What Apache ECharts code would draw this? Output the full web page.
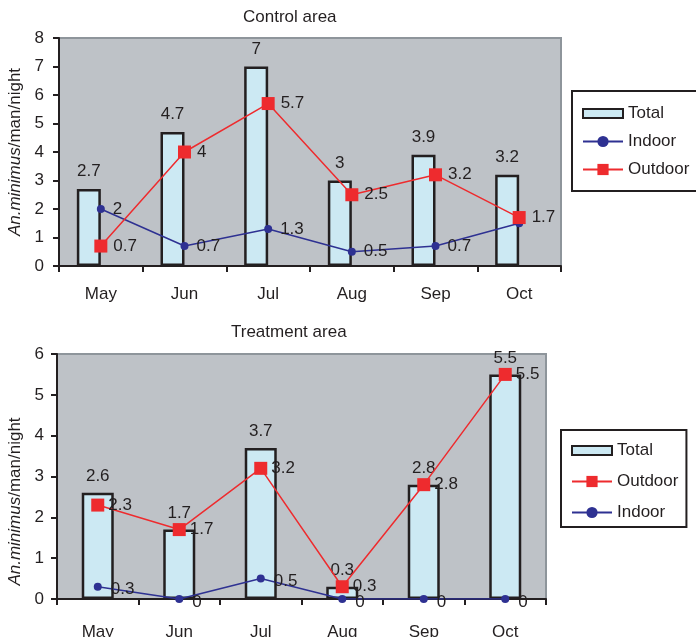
<!DOCTYPE html>
<html>
<head>
<meta charset="utf-8">
<script src="https://cdn.jsdelivr.net/npm/echarts@6/dist/echarts.min.js"></script>
<style>
html,body{margin:0;padding:0;background:#fff;}
#c{width:696px;height:637px;}
</style>
</head>
<body>
<div id="c"></div>
<script>
const months = ['May','Jun','Jul','Aug','Sep','Oct'];
const controlTotal = [2.7, 4.7, 7, 3, 3.9, 3.2];
const controlIndoor = [2, 0.7, 1.3, 0.5, 0.7, 1.5];
const controlOutdoor = [0.7, 4, 5.7, 2.5, 3.2, 1.7];
const controlIndoorHiddenLabels = [5];
const treatTotal = [2.6, 1.7, 3.7, 0.3, 2.8, 5.5];
const treatOutdoor = [2.3, 1.7, 3.2, 0.3, 2.8, 5.5];
const treatIndoor = [0.3, 0, 0.5, 0, 0, 0];

const FONT = '"Liberation Sans", Arial, sans-serif';
const TXT = '#231F20';
const RED = '#EE2B2E';
const BLUE = '#2E3192';
const BARFILL = '#CCE9F3';
const TOTAL_ICON = 'path://M0,0h40v9h-40z';

const chart = echarts.init(document.getElementById('c'), null, {renderer: 'canvas'});

function xAxis(gi, margin) {
  return {
    type: 'category', gridIndex: gi, data: months,
    axisLine: {show: true, lineStyle: {color: TXT, width: 2}},
    axisTick: {show: true, length: 6, lineStyle: {color: TXT, width: 2}},
    axisLabel: {fontSize: 17, color: TXT, fontFamily: FONT, margin: margin}
  };
}
function yAxis(gi, max, gap, margin, pad) {
  return {
    type: 'value', gridIndex: gi, min: 0, max: max, interval: 1,
    name: '{i|An.minimus}/man/night',
    nameLocation: 'middle', nameGap: gap,
    nameTextStyle: {fontSize: 17, color: TXT, fontFamily: FONT, padding: pad,
      rich: {i: {fontStyle: 'italic', fontSize: 17, color: TXT, fontFamily: FONT}}},
    axisLine: {show: true, lineStyle: {color: TXT, width: 2}},
    axisTick: {show: true, length: 6, lineStyle: {color: TXT, width: 2}},
    splitLine: {show: false},
    axisLabel: {fontSize: 17, color: TXT, fontFamily: FONT, margin: margin}
  };
}
const lbl = (pos, dist) => ({show: true, position: pos, distance: dist, fontSize: 17, color: TXT, fontFamily: FONT});

const option = {
  animation: false,
  backgroundColor: '#ffffff',
  title: [
    {text: 'Control area', left: 243, top: 9, padding: 0,
     textStyle: {fontSize: 17, fontWeight: 'normal', color: TXT, fontFamily: FONT}},
    {text: 'Treatment area', left: 231, top: 324, padding: 0,
     textStyle: {fontSize: 17, fontWeight: 'normal', color: TXT, fontFamily: FONT}}
  ],
  legend: [
    {orient: 'vertical', left: 572, top: 91, padding: [14, 14, 13, 10],
     borderColor: TXT, borderWidth: 2, itemWidth: 40, itemHeight: 14, itemGap: 11,
     textStyle: {fontSize: 17, color: TXT, fontFamily: FONT},
     data: [{name: 'Total', icon: TOTAL_ICON}, 'Indoor', 'Outdoor']},
    {orient: 'vertical', left: 561, top: 430, padding: [12, 8, 6, 10],
     borderColor: TXT, borderWidth: 2, itemWidth: 40, itemHeight: 14, itemGap: 14,
     textStyle: {fontSize: 17, color: TXT, fontFamily: FONT},
     data: [{name: 'Total', icon: TOTAL_ICON}, 'Outdoor', 'Indoor']}
  ],
  grid: [
    {left: 59, top: 38, width: 502, height: 228, show: true, outerBoundsMode: 'none',
     backgroundColor: '#BEC2C7', borderColor: '#8E959B', borderWidth: 2},
    {left: 57, top: 354, width: 489, height: 245, show: true, outerBoundsMode: 'none',
     backgroundColor: '#BEC2C7', borderColor: '#8E959B', borderWidth: 2}
  ],
  xAxis: [xAxis(0, 20), xAxis(1, 25)],
  yAxis: [yAxis(0, 8, 30, 15, 0), yAxis(1, 6, 28, 13, [0, 50, 0, 0])],
  series: [
    {name: 'Total', type: 'bar', xAxisIndex: 0, yAxisIndex: 0, data: controlTotal,
     barWidth: 24, barGap: '0%',
     itemStyle: {color: BARFILL, borderColor: TXT, borderWidth: 2.5},
     label: lbl('top', 9)},
    {name: 'spacer', type: 'bar', xAxisIndex: 0, yAxisIndex: 0,
     data: controlTotal.map(() => '-'), barWidth: 24, silent: true},
    {name: 'Indoor', type: 'line', xAxisIndex: 0, yAxisIndex: 0,
     data: controlIndoor.map((v, i) => controlIndoorHiddenLabels.includes(i) ? {value: v, label: {show: false}} : v),
     symbol: 'circle', symbolSize: 8,
     itemStyle: {color: BLUE}, lineStyle: {color: BLUE, width: 1.5},
     label: lbl('right', 8)},
    {name: 'Outdoor', type: 'line', xAxisIndex: 0, yAxisIndex: 0, data: controlOutdoor,
     symbol: 'rect', symbolSize: 13,
     itemStyle: {color: RED}, lineStyle: {color: RED, width: 1.5},
     label: lbl('right', 6)},

    {name: 'Total', type: 'bar', xAxisIndex: 1, yAxisIndex: 1, data: treatTotal,
     barWidth: 32,
     itemStyle: {color: BARFILL, borderColor: TXT, borderWidth: 2.5},
     label: lbl('top', 8)},
    {name: 'Indoor', type: 'line', xAxisIndex: 1, yAxisIndex: 1, data: treatIndoor,
     symbol: 'circle', symbolSize: 8,
     itemStyle: {color: BLUE}, lineStyle: {color: BLUE, width: 1.5},
     label: Object.assign(lbl('right', 9), {offset: [0, 3]})},
    {name: 'Outdoor', type: 'line', xAxisIndex: 1, yAxisIndex: 1, data: treatOutdoor,
     symbol: 'rect', symbolSize: 13,
     itemStyle: {color: RED}, lineStyle: {color: RED, width: 1.5},
     label: lbl('right', 4)}
  ]
};
chart.setOption(option);
</script>
</body>
</html>
